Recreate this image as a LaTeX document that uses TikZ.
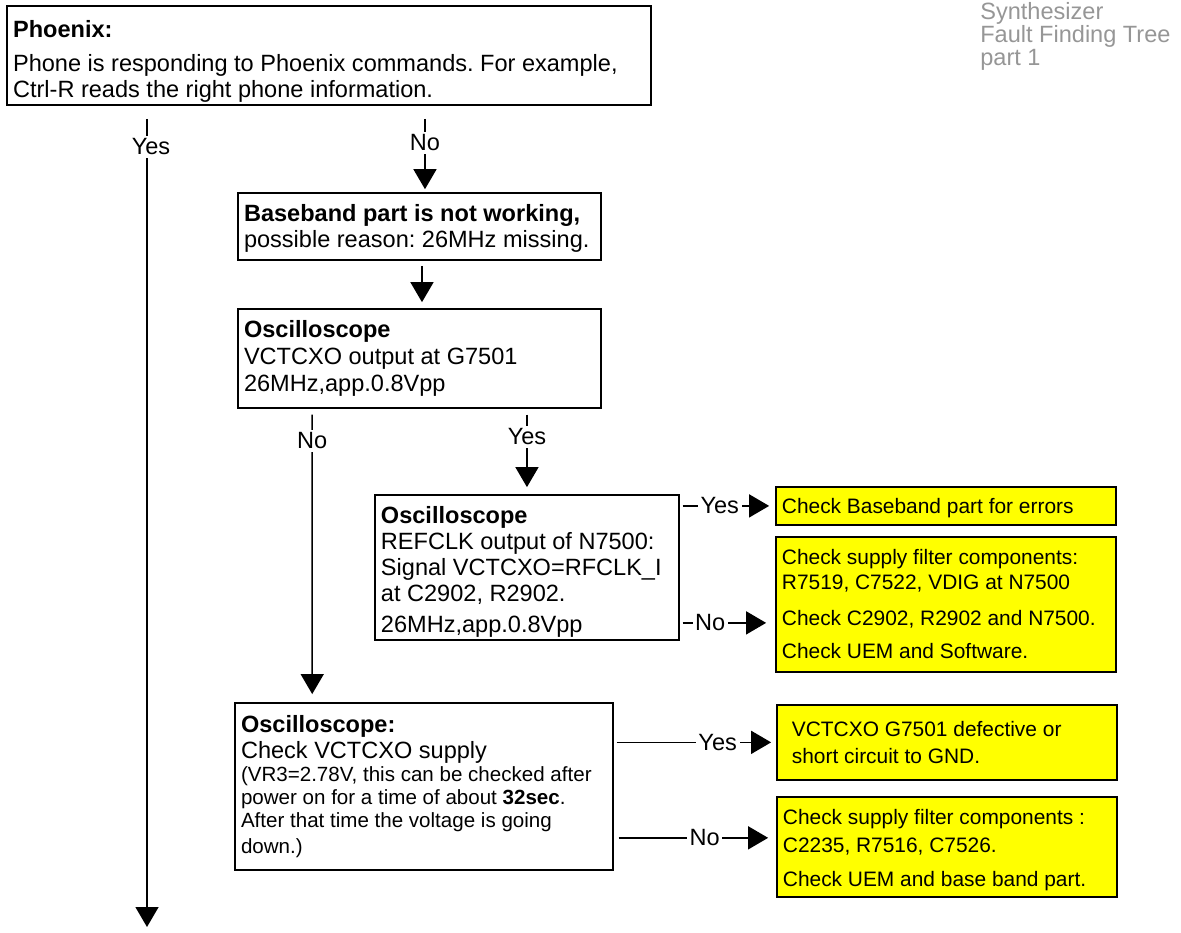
\documentclass[tikz,border=0pt]{standalone}
\usepackage{fontspec}
\setmainfont{Liberation Sans}
\usetikzlibrary{arrows.meta, positioning}
\frenchspacing
\definecolor{fixyellow}{RGB}{255,255,0}
\definecolor{titlegray}{RGB}{150,150,150}
\newcommand{\bigtext}{\fontsize{13.4pt}{14.7pt}\selectfont}
\newcommand{\smalltext}{\fontsize{11.7pt}{13pt}\selectfont}
\newcommand{\fixtext}{\fontsize{11.9pt}{14.2pt}\selectfont}
\tikzstyle{process} = [rectangle, draw=black, line width=0.9pt, fill=white, inner xsep=0.12cm, inner ysep=0pt, align=flush left, font=\bigtext]
\tikzstyle{fix} = [rectangle, draw=black, line width=0.9pt, fill=fixyellow, inner xsep=0.12cm, inner ysep=0pt, text width=6.56cm, align=flush left, font=\fixtext]
\tikzstyle{answer} = [fill=white, inner sep=1.5pt, font=\bigtext]
\tikzstyle{arrow} = [line width=0.85pt, -{Triangle[length=0.4cm, width=0.46cm]}]
\begin{document}
\begin{tikzpicture}[x=0.02cm, y=-0.02cm, node distance=2cm]
    \useasboundingbox (0,0) rectangle (1181,933);
    \node [process, text width=12.64cm, text height=0.62cm, text depth=1.36cm] at (329,55.5)		(phoenix)	{\textbf{Phoenix:}\\[5pt]Phone is responding to Phoenix commands. For example,\\Ctrl-R reads the right phone information.};
    \node [process, below of=phoenix, xshift=1.81cm, yshift=-1.42cm, text width=7.02cm, text height=0.58cm, text depth=0.76cm]	(baseband)	{\textbf{Baseband part is not working,}\\possible reason: 26MHz missing.};
    \node [process, below of=baseband, yshift=-0.64cm, text width=7.02cm, text height=0.58cm, text depth=1.4cm]	(osc1)	{\textbf{Oscilloscope}\\[0.5pt]VCTCXO output at G7501\\[0.5pt]26MHz,app.0.8Vpp};
    \node [process, below of=osc1, xshift=2.15cm, yshift=-2.18cm, text width=5.84cm, text height=0.58cm, text depth=2.32cm]	(osc2)	{\textbf{Oscilloscope}\\REFCLK output of N7500:\\Signal VCTCXO=RFCLK\_I\\at C2902, R2902.\\[3pt]26MHz,app.0.8Vpp};
    \node [process, below of=osc2, xshift=-2.06cm, yshift=-2.38cm, text width=7.32cm, text height=0.6cm, text depth=2.74cm]	(osc3)	{\textbf{Oscilloscope:}\\Check VCTCXO supply\par\smalltext (VR3=2.78V, this can be checked after\\power on for a time of about \textbf{32sec}.\\After that time the voltage is going\\down.)};
    \node [fix, right of=osc2, xshift=6.38cm, yshift=1.23cm, text height=0.54cm, text depth=0.22cm]	(fix1)	{Check Baseband part for errors};
    \node [fix, below of=fix1, yshift=0.03cm, text height=0.56cm, text depth=2.14cm]	(fix2)	{Check supply filter components:\\R7519, C7522, VDIG at N7500\\[6.2pt]Check C2902, R2902 and N7500.\\[4.5pt]Check UEM and Software.};
    \node [fix, right of=osc3, xshift=8.46cm, yshift=0.88cm, text height=0.64cm, text depth=0.86cm, inner xsep=0.3cm, text width=6.2cm]	(fix3)	{VCTCXO G7501 defective or\\[1pt]short circuit to GND.};
    \node [fix, below of=fix3, yshift=-0.09cm, text height=0.56cm, text depth=1.44cm]	(fix4)	{Check supply filter components :\\[1.7pt]C2235, R7516, C7526.\\[5pt]Check UEM and base band part.};
    \node [anchor=north west, inner sep=0pt, align=left, text=titlegray, font=\fontsize{13.4pt}{13.1pt}\selectfont] at (980,2)	(title)	{Synthesizer\\Fault Finding Tree\\part 1};
    \coordinate (yesend) at (147,927);
    \coordinate (bbtop) at ([xshift=0.11cm]baseband.north);
    \coordinate (bbbottom) at ([xshift=0.05cm]baseband.south);
    \coordinate (notwo) at ([yshift=-0.37cm]fix2.west);
    \coordinate (nofour) at ([yshift=0.18cm]fix4.west);

    \draw [arrow, shorten <=0.26cm] (phoenix.south -| yesend) -- node[answer, pos=0.05, xshift=0.08cm]{Yes} (yesend);
    \draw [arrow, shorten <=0.26cm, shorten >=0.06cm] (phoenix.south -| bbtop) -- node[answer, pos=0.43]{No} (bbtop);
    \draw [arrow, shorten <=0.1cm, shorten >=0.12cm] (bbbottom) -- (bbbottom |- osc1.north);
    \draw [arrow, shorten <=0.12cm, shorten >=0.16cm] ([xshift=1.5cm]osc1.south west) -- node[answer, pos=0.11]{No} ([xshift=1.56cm]osc3.north west);
    \draw [arrow, shorten <=0.12cm, shorten >=0.14cm] (osc1.south -| osc2.north) -- node[answer, pos=0.33]{Yes} (osc2.north);
    \draw [arrow, shorten <=0.06cm, shorten >=0.12cm] (osc2.east |- fix1.west) -- node[answer, pos=0.42]{Yes} (fix1.west);
    \draw [arrow, shorten <=0.06cm, shorten >=0.18cm] (osc2.east |- notwo) -- node[answer, pos=0.32]{No} (notwo);
    \draw [arrow, shorten <=0.06cm, shorten >=0.1cm] (osc3.east |- fix3.west) -- node[answer, pos=0.64]{Yes} (fix3.west);
    \draw [arrow, shorten <=0.1cm, shorten >=0.16cm] (osc3.east |- nofour) -- node[answer, pos=0.56]{No} (nofour);
\end{tikzpicture}
\end{document}
